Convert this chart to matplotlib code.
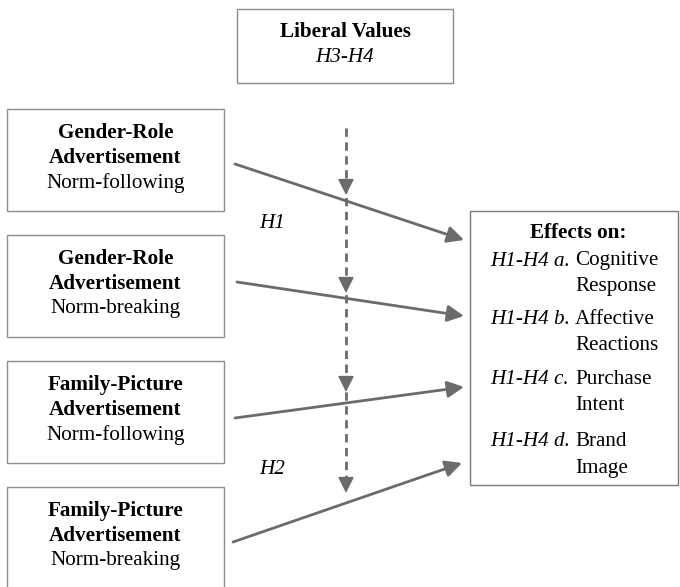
import numpy as np
import matplotlib.pyplot as plt
from matplotlib.patches import Rectangle

# Text content of the diagram
moderator = ['Liberal Values', 'H3-H4']
ad_titles = [['Gender-Role', 'Advertisement'],
             ['Gender-Role', 'Advertisement'],
             ['Family-Picture', 'Advertisement'],
             ['Family-Picture', 'Advertisement']]
ad_norms = ['Norm-following', 'Norm-breaking', 'Norm-following', 'Norm-breaking']
effects_title = 'Effects on:'
effect_codes = ['H1-H4 a.', 'H1-H4 b.', 'H1-H4 c.', 'H1-H4 d.']
effect_names = [['Cognitive', 'Response'], ['Affective', 'Reactions'],
                ['Purchase', 'Intent'], ['Brand', 'Image']]
path_labels = ['H1', 'H2']

plt.rcParams['font.family'] = ['Liberation Serif', 'DejaVu Serif']
fs = 15.2
line_col = '#6b6b6b'
box_col = '#8e8e8e'

fig = plt.figure(figsize=(6.8, 5.87), dpi=100)
ax = fig.add_axes([0, 0, 1, 1])
ax.set_xlim(0, 680)
ax.set_ylim(587, 0)
ax.axis('off')

# Moderator box
ax.add_patch(Rectangle((237, 9), 216, 74, fill=False, ec=box_col, lw=1))
ax.text(345, 32, moderator[0], ha='center', va='center', fontsize=fs, fontweight='bold')
ax.text(345, 58, moderator[1], ha='center', va='center', fontsize=fs, style='italic')

# Advertisement boxes on the left
box_tops = [109, 235, 361, 487]
for top, title, norm in zip(box_tops, ad_titles, ad_norms):
    ax.add_patch(Rectangle((7, top), 217, 102, fill=False, ec=box_col, lw=1))
    ax.text(115.5, top + 24, title[0], ha='center', va='center', fontsize=fs, fontweight='bold')
    ax.text(115.5, top + 49, title[1], ha='center', va='center', fontsize=fs, fontweight='bold')
    ax.text(115.5, top + 74, norm, ha='center', va='center', fontsize=fs)

# Effects box on the right
ax.add_patch(Rectangle((470, 211), 208, 274, fill=False, ec='#7a7a7a', lw=1))
ax.text(578, 233, effects_title, ha='center', va='center', fontsize=fs, fontweight='bold')
row_y = [261, 320, 380, 442]
for y, code, name in zip(row_y, effect_codes, effect_names):
    ax.text(490, y, code, ha='left', va='center', fontsize=fs, style='italic')
    ax.text(575, y, name[0], ha='left', va='center', fontsize=fs)
    ax.text(575, y + 26, name[1], ha='left', va='center', fontsize=fs)

# Solid arrows from ads to effects
starts = [(235, 164), (237, 282), (235, 418), (233, 542)]
ends = [(464, 240), (464, 316), (464, 387), (462, 463)]
for s, e in zip(starts, ends):
    ax.annotate('', xy=e, xytext=s,
                arrowprops=dict(arrowstyle='-|>', color=line_col, lw=2,
                                shrinkA=0, shrinkB=0, mutation_scale=25))

# small white break in the first arrow
gx = np.array([317, 325])
gy = np.interp(gx, [starts[0][0], ends[0][0]], [starts[0][1], ends[0][1]])
ax.plot(gx, gy, color='white', lw=3.5, solid_capstyle='butt')

# Dashed moderator line with arrowheads on each path
mod_x = 346
tips = [195, 293, 392, 493]
ax.plot([mod_x, mod_x], [128, tips[-1] - 10], color=line_col, lw=2,
        linestyle=(0, (3, 2)))
for t in tips:
    ax.annotate('', xy=(mod_x, t), xytext=(mod_x, t - 14),
                arrowprops=dict(arrowstyle='-|>', color=line_col, lw=1,
                                shrinkA=0, shrinkB=0, mutation_scale=25))

# Path labels
ax.text(272, 223, path_labels[0], ha='center', va='center', fontsize=fs, style='italic')
ax.text(272, 470, path_labels[1], ha='center', va='center', fontsize=fs, style='italic')

fig.savefig('out.png', dpi=100)
